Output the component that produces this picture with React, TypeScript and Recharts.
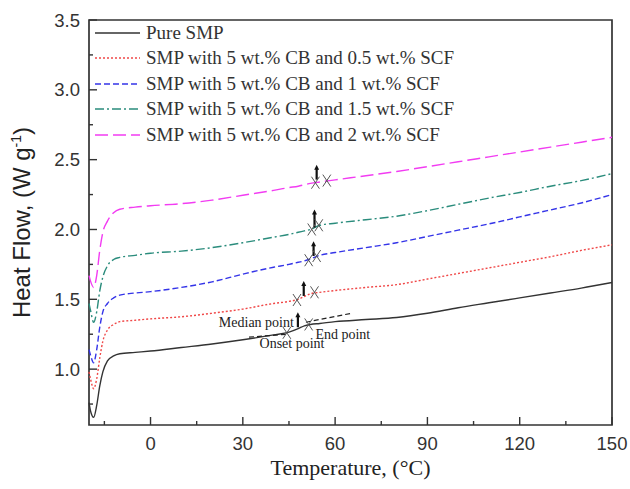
import React from 'react';
import { LineChart, Line, XAxis, YAxis, Legend, Label, ReferenceDot, ReferenceLine, ReferenceArea } from 'recharts';

// temperature grid (°C) shared by all DSC traces
const temperature = [-20, -19.5, -18.5, -17.5, -16.5, -15.5, -14, -12, -10, -5, 0, 10, 20, 30, 40, 45, 48, 50, 52, 55, 60, 70, 80, 90, 100, 110, 120, 130, 140, 150];

// heat flow (W/g)
const pureSMP = [0.76, 0.7, 0.655, 0.74, 0.88, 0.98, 1.06, 1.095, 1.11, 1.12, 1.13, 1.155, 1.18, 1.21, 1.245, 1.265, 1.29, 1.31, 1.32, 1.327, 1.34, 1.355, 1.37, 1.4, 1.44, 1.475, 1.51, 1.545, 1.58, 1.62];
const scf05 = [0.98, 0.93, 0.86, 0.93, 1.08, 1.2, 1.28, 1.32, 1.34, 1.35, 1.36, 1.375, 1.4, 1.43, 1.47, 1.485, 1.5, 1.52, 1.54, 1.55, 1.563, 1.585, 1.605, 1.645, 1.685, 1.725, 1.765, 1.805, 1.85, 1.89];
const scf1 = [1.14, 1.1, 1.045, 1.14, 1.3, 1.41, 1.47, 1.51, 1.53, 1.545, 1.555, 1.585, 1.625, 1.68, 1.73, 1.75, 1.765, 1.775, 1.79, 1.815, 1.835, 1.87, 1.905, 1.95, 1.995, 2.04, 2.09, 2.14, 2.19, 2.25];
const scf15 = [1.47, 1.42, 1.335, 1.41, 1.56, 1.66, 1.74, 1.785, 1.8, 1.815, 1.83, 1.845, 1.87, 1.905, 1.945, 1.965, 1.98, 1.99, 2.0, 2.03, 2.045, 2.07, 2.095, 2.135, 2.18, 2.225, 2.265, 2.31, 2.35, 2.4];
const scf2 = [1.67, 1.63, 1.585, 1.67, 1.85, 1.98, 2.06, 2.12, 2.145, 2.16, 2.17, 2.185, 2.21, 2.245, 2.28, 2.3, 2.31, 2.32, 2.33, 2.34, 2.355, 2.385, 2.415, 2.45, 2.485, 2.52, 2.555, 2.59, 2.625, 2.66];

const seriesKeys = ['pure', 'scf05', 'scf1', 'scf15', 'scf2'];
const seriesNames = [
  'Pure SMP',
  'SMP with 5 wt.% CB and 0.5 wt.% SCF',
  'SMP with 5 wt.% CB and 1 wt.% SCF',
  'SMP with 5 wt.% CB and 1.5 wt.% SCF',
  'SMP with 5 wt.% CB and 2 wt.% SCF',
];
const seriesColors = ['#333333', '#f04848', '#3434e8', '#2a8c7c', '#f23cf2'];
const seriesDash = ['', '2 2', '6 3', '9 3 2 3', '13 5'];

// glass transition markers (onset / end crosses)
const crossT = [44.3, 51.4, 47.6, 53.3, 51.4, 54.0, 52.4, 54.7, 53.6, 57.3];
const crossV = [1.26, 1.32, 1.495, 1.55, 1.78, 1.81, 2.0, 2.03, 2.335, 2.35];

// median point arrows
const arrowT = [47.9, 49.8, 53.0, 53.3, 54.0];
const arrowBase = [1.3, 1.524, 1.81, 2.014, 2.357];
const arrowTip = [1.407, 1.631, 1.916, 2.143, 2.464];

// tangent construction lines on pure SMP
const tangentStart = [[32, 1.229], [50.5, 1.336]];
const tangentEnd = [[44.3, 1.25], [65.3, 1.4]];

const noteText = ['Median point', 'Onset point', 'End point'];
const noteT = [46.6, 46, 53.6];
const noteV = [1.336, 1.19, 1.255];
const noteAnchor = ['end', 'middle', 'start'];

const xTicks = [-15, 0, 15, 30, 45, 60, 75, 90, 105, 120, 135, 150];
const yTicks = [0.75, 1, 1.25, 1.5, 1.75, 2, 2.25, 2.5, 2.75, 3, 3.25, 3.5];

const data = temperature.map((t, i) => ({
  t,
  pure: pureSMP[i],
  scf05: scf05[i],
  scf1: scf1[i],
  scf15: scf15[i],
  scf2: scf2[i],
}));

const SANS = '"Liberation Sans", Arial, sans-serif';
const SERIF = '"Liberation Serif", "Times New Roman", serif';

const XTick = (props: any) => {
  const { x, y, payload } = props;
  const major = payload.value % 30 === 0;
  return (
    <g>
      <line x1={x} x2={x} y1={y} y2={y - (major ? 8 : 4)} stroke="#333" strokeWidth={1.4} />
      {major && (
        <text x={x} y={y + 25} textAnchor="middle" fontFamily={SANS} fontSize={18.5} fill="#333">
          {payload.value}
        </text>
      )}
    </g>
  );
};

const YTick = (props: any) => {
  const { x, y, payload } = props;
  const major = Math.abs(payload.value * 2 - Math.round(payload.value * 2)) < 1e-6;
  return (
    <g>
      <line x1={x} x2={x + (major ? 8 : 4)} y1={y} y2={y} stroke="#333" strokeWidth={1.4} />
      {major && (
        <text x={x - 9} y={y + 6.5} textAnchor="end" fontFamily={SANS} fontSize={18.5} fill="#333">
          {payload.value.toFixed(1)}
        </text>
      )}
    </g>
  );
};

const CrossShape = (props: any) => {
  const { cx, cy } = props;
  return (
    <g stroke="#555" strokeWidth={1}>
      <line x1={cx - 4} y1={cy - 6} x2={cx + 4} y2={cy + 6} />
      <line x1={cx + 4} y1={cy - 6} x2={cx - 4} y2={cy + 6} />
    </g>
  );
};

const ArrowShape = (props: any) => {
  const { x1, y1, x2, y2 } = props;
  return (
    <g>
      <line x1={x1} y1={y1} x2={x2} y2={y2 + 4} stroke="#111" strokeWidth={2.2} />
      <path d={`M${x2 - 2.5},${y2 + 5} L${x2},${y2} L${x2 + 2.5},${y2 + 5} Z`} fill="#111" />
    </g>
  );
};

const noteShape = (i: number) => (props: any) => (
  <text
    x={props.cx}
    y={props.cy + 5}
    textAnchor={noteAnchor[i]}
    fontFamily={SERIF}
    fontSize={14}
    fill="#222"
  >
    {noteText[i]}
  </text>
);

const LegendBox = () => (
  <div style={{ fontFamily: SERIF, fontSize: 19, color: '#333' }}>
    {seriesNames.map((name, i) => (
      <div key={name} style={{ display: 'flex', alignItems: 'center', height: 25.5, whiteSpace: 'nowrap' }}>
        <svg width={45} height={10}>
          <line x1={0} x2={45} y1={5} y2={5} stroke={seriesColors[i]} strokeWidth={1.4} strokeDasharray={seriesDash[i]} />
        </svg>
        <span style={{ marginLeft: 6 }}>{name}</span>
      </div>
    ))}
  </div>
);

export default function App() {
  return (
    <div style={{ position: 'absolute', left: 0, top: 0, background: '#fff' }}>
      <LineChart width={630} height={489} data={data} margin={{ top: 20, right: 18, bottom: 0, left: 0 }}>
        <XAxis
          dataKey="t"
          type="number"
          domain={[-20, 150]}
          ticks={xTicks}
          interval={0}
          tickSize={0}
          tickMargin={0}
          axisLine={false}
          tick={<XTick />}
          height={64}
        >
          <Label
            content={(p: any) => {
              const vb = p.viewBox;
              return (
                <text x={vb.x + vb.width / 2} y={vb.y + 50} textAnchor="middle" fontFamily={SERIF} fontSize={22} fill="#222">
                  Temperature, (°C)
                </text>
              );
            }}
          />
        </XAxis>
        <YAxis
          type="number"
          domain={[0.6, 3.5]}
          ticks={yTicks}
          interval={0}
          tickSize={0}
          tickMargin={0}
          axisLine={false}
          tick={<YTick />}
          width={89}
        >
          <Label
            content={(p: any) => {
              const vb = p.viewBox;
              const cx = 30;
              const cy = vb.y + vb.height / 2;
              return (
                <text x={cx} y={cy} transform={`rotate(-90 ${cx} ${cy})`} textAnchor="middle" fontFamily={SANS} fontSize={24} fill="#222">
                  Heat Flow, (W g<tspan dy={-9} fontSize={14}>-1</tspan><tspan dy={9}>)</tspan>
                </text>
              );
            }}
          />
        </YAxis>
        <ReferenceArea x1={-20} x2={150} y1={0.6} y2={3.5} fill="none" stroke="#333" strokeWidth={1.7} />
        {seriesKeys.map((k, i) => (
          <Line
            key={k}
            dataKey={k}
            name={seriesNames[i]}
            type="monotone"
            stroke={seriesColors[i]}
            strokeWidth={1.4}
            strokeDasharray={seriesDash[i]}
            dot={false}
            activeDot={false}
            isAnimationActive={false}
          />
        ))}
        {tangentStart.map((s, i) => (
          <ReferenceLine
            key={`tan-${i}`}
            segment={[{ x: s[0], y: s[1] }, { x: tangentEnd[i][0], y: tangentEnd[i][1] }]}
            stroke="#222"
            strokeWidth={1.2}
            strokeDasharray="5 3"
          />
        ))}
        {arrowT.map((t, i) => (
          <ReferenceLine
            key={`arr-${i}`}
            segment={[{ x: t, y: arrowBase[i] }, { x: t, y: arrowTip[i] }]}
            shape={ArrowShape}
          />
        ))}
        {crossT.map((t, i) => (
          <ReferenceDot key={`x-${i}`} x={t} y={crossV[i]} r={0} shape={CrossShape} />
        ))}
        {noteText.map((n, i) => (
          <ReferenceDot key={n} x={noteT[i]} y={noteV[i]} r={0} shape={noteShape(i)} />
        ))}
        <Legend
          layout="vertical"
          align="center"
          verticalAlign="middle"
          wrapperStyle={{ left: 95, top: 20, width: 440, height: 130 }}
          content={() => <LegendBox />}
        />
      </LineChart>
    </div>
  );
}
